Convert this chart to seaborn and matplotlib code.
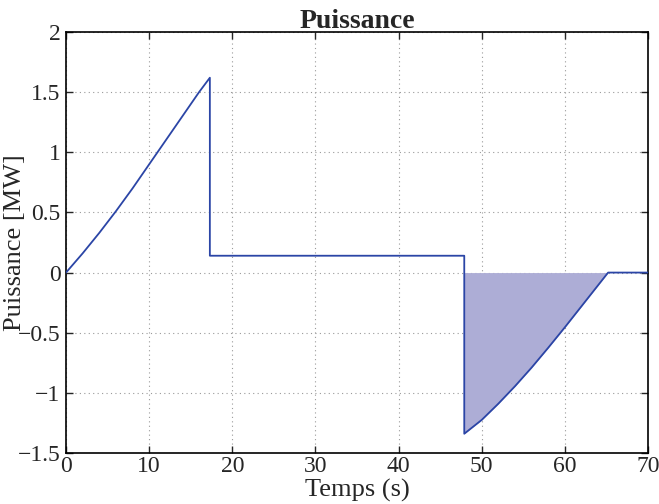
import matplotlib.pyplot as plt
import seaborn as sns
import pandas as pd

# values
temps = [0, 2, 4, 6, 8, 10, 12, 14, 16, 17.3,
         17.3, 47.9,
         47.9, 50, 52, 54, 56, 58, 60, 62, 64, 65.2, 70]
puissance = [0, 0.16, 0.33, 0.51, 0.70, 0.90, 1.10, 1.30, 1.50, 1.62,
             0.14, 0.14,
             -1.34, -1.225, -1.09, -0.945, -0.79, -0.625, -0.455, -0.28, -0.105, 0.0, 0.0]
freinage_start = 12   # index where the negative part begins
freinage_end = 21     # index where it returns to zero

sns.set_style("ticks")
plt.rcParams['font.family'] = ['Liberation Serif', 'DejaVu Serif']

df = pd.DataFrame({"t": temps, "p": puissance})
line_col = "#2b45a6"

fig = plt.figure(figsize=(6.59, 5.04), dpi=100)
ax = fig.add_axes([0.1002, 0.1012, 0.8831, 0.8353])

neg = df.iloc[freinage_start:freinage_end + 1]
ax.fill_between(neg["t"], neg["p"], 0, color="#adadd6", linewidth=0, zorder=1)
sns.lineplot(data=df, x="t", y="p", sort=False, estimator=None, color=line_col,
             linewidth=1.3, ax=ax, zorder=3)

ax.set_xlim(0, 70)
ax.set_ylim(-1.5, 2)
ax.set_xticks(range(0, 71, 10))
ax.set_yticks([-1.5, -1, -0.5, 0, 0.5, 1, 1.5, 2])
ax.set_yticklabels(["\u22121.5", "\u22121", "\u22120.5", "0", "0.5", "1", "1.5", "2"])
ax.grid(True, linestyle=(0, (1, 3)), color="#9a9a9a", linewidth=0.8)
ax.tick_params(direction="in", top=True, right=True, labelsize=17, length=5,
               width=1, pad=2)
ax.tick_params(axis="y", pad=4)
for s in ax.spines.values():
    s.set_linewidth(1.2)
    s.set_color("black")

ax.set_title("Puissance", fontsize=20, fontweight="bold", pad=3)
ax.set_xlabel("Temps (s)", fontsize=19)
ax.set_ylabel("Puissance [MW]", fontsize=19)
ax.xaxis.set_label_coords(0.5, -0.062)
ax.yaxis.set_label_coords(-0.068, 0.5)

fig.savefig("out.png", dpi=100)
